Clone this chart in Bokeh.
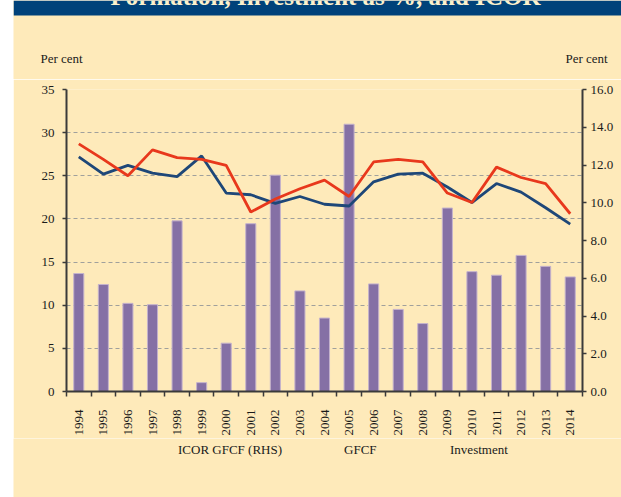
import math
from bokeh.plotting import figure
from bokeh.models import (Range1d, LinearAxis, FixedTicker, PrintfTickFormatter,
                          Legend, LegendItem, Label, BoxAnnotation, Spacer, ColumnDataSource)
from bokeh.layouts import column, row
from bokeh.embed import file_html
from bokeh.resources import INLINE

years = list(range(1994, 2015))
icor = [6.25, 5.67, 4.67, 4.60, 9.04, 0.47, 2.56, 8.89, 11.46, 5.33, 3.89,
        14.16, 5.70, 4.35, 3.60, 9.72, 6.35, 6.16, 7.21, 6.63, 6.07]
gfcf = [27.2, 25.2, 26.2, 25.3, 24.9, 27.3, 23.0, 22.8, 21.8, 22.6, 21.7,
        21.5, 24.3, 25.2, 25.3, 23.7, 21.9, 24.1, 23.1, 21.3, 19.4]
investment = [28.7, 26.9, 25.0, 28.0, 27.1, 26.9, 26.2, 20.8, 22.3, 23.5, 24.5,
              22.6, 26.6, 26.9, 26.6, 23.0, 21.9, 26.0, 24.8, 24.1, 20.6]
left_ticks = [0, 5, 10, 15, 20, 25, 30, 35]
right_ticks = [0, 2, 4, 6, 8, 10, 12, 14, 16]
unit_label = "Per cent"
title_text = "Formation, Investment as %, and ICOR"
series_names = ["ICOR GFCF (RHS)", "GFCF", "Investment"]

BG = "#FEEABA"
BLUE = "#00427A"
FONT = "Liberation Serif"
AX = "#3A3A3A"
TXT = "#1A1A1A"
BAR_FILL = "#8570A5"
BAR_LINE = "#C4B2CC"
GFCF_C = "#1E4778"
INV_C = "#E8381C"
W = 608
HEAD_H = 79

# ---------- header strip: blue title band + unit captions ----------
head = figure(width=W, height=HEAD_H, output_backend="svg", toolbar_location=None,
              x_range=Range1d(0, W), y_range=Range1d(0, HEAD_H),
              x_axis_location=None, y_axis_location=None, frame_align=False,
              min_border_left=0, min_border_right=0, min_border_bottom=0, min_border_top=0)
head.background_fill_color = BG
head.border_fill_color = BG
head.outline_line_color = None
head.grid.visible = False
head.add_layout(BoxAnnotation(bottom=HEAD_H - 15, fill_color=BLUE, fill_alpha=1,
                              line_color=None))
head.add_layout(Label(x=312, y=HEAD_H + 4, text=title_text, text_font=FONT,
                      text_font_size="25px", text_font_style="bold",
                      text_color="#FDF1CC", text_align="center",
                      text_baseline="alphabetic"))
for xx in [27, 552]:
    head.add_layout(Label(x=xx, y=21, text=unit_label, text_font=FONT,
                          text_font_size="13px", text_color=TXT,
                          text_baseline="alphabetic"))

# ---------- main chart ----------
src = ColumnDataSource(dict(year=years, icor=icor, gfcf=gfcf, inv=investment))

p = figure(width=W, height=359, output_backend="svg", toolbar_location=None,
           x_range=Range1d(years[0] - 0.5, years[-1] + 0.5),
           y_range=Range1d(left_ticks[0], left_ticks[-1]),
           x_axis_location=None, y_axis_location=None, frame_align=False,
           min_border_left=53, min_border_right=39, min_border_top=10, min_border_bottom=45)
p.background_fill_color = BG
p.border_fill_color = BG
p.outline_line_color = None
p.extra_y_ranges = {"rhs": Range1d(right_ticks[0], right_ticks[-1])}

xaxis = LinearAxis(ticker=FixedTicker(ticks=years,
                                      minor_ticks=[y - 0.5 for y in years] + [years[-1] + 0.5]))
xaxis.major_tick_out = 0
xaxis.major_tick_in = 0
xaxis.minor_tick_out = 5
xaxis.minor_tick_in = 0
xaxis.minor_tick_line_color = AX
xaxis.minor_tick_line_width = 1.5
xaxis.axis_line_color = AX
xaxis.axis_line_width = 2
xaxis.major_label_orientation = math.pi / 2
xaxis.major_label_standoff = 13
xaxis.major_label_text_font = FONT
xaxis.major_label_text_font_size = "13px"
xaxis.major_label_text_color = TXT
p.add_layout(xaxis, "below")

yaxis = LinearAxis(ticker=FixedTicker(ticks=left_ticks))
yaxis.major_tick_out = 4
yaxis.major_tick_in = 0
yaxis.minor_tick_out = 0
yaxis.minor_tick_in = 0
yaxis.axis_line_color = AX
yaxis.axis_line_width = 2
yaxis.major_tick_line_color = AX
yaxis.major_tick_line_width = 1.5
yaxis.major_label_standoff = 8
yaxis.major_label_text_font = FONT
yaxis.major_label_text_font_size = "13px"
yaxis.major_label_text_color = TXT
p.add_layout(yaxis, "left")

raxis = LinearAxis(y_range_name="rhs", ticker=FixedTicker(ticks=right_ticks),
                   formatter=PrintfTickFormatter(format="%.1f"))
raxis.major_tick_out = 4
raxis.major_tick_in = 0
raxis.minor_tick_out = 0
raxis.minor_tick_in = 0
raxis.axis_line_color = AX
raxis.axis_line_width = 2
raxis.major_tick_line_color = AX
raxis.major_tick_line_width = 1.5
raxis.major_label_standoff = 4
raxis.major_label_text_font = FONT
raxis.major_label_text_font_size = "13px"
raxis.major_label_text_color = TXT
p.add_layout(raxis, "right")

p.xgrid.visible = False
p.ygrid.ticker = FixedTicker(ticks=left_ticks[1:])
p.ygrid.grid_line_color = "#A0A09C"
p.ygrid.grid_line_dash = "4 3"
p.ygrid.grid_line_width = 1.2

p.vbar(x="year", top="icor", width=0.41, source=src, y_range_name="rhs",
       fill_color=BAR_FILL, line_color=BAR_LINE, line_width=1)
p.line("year", "gfcf", source=src, line_color=GFCF_C, line_width=2.8)
p.line("year", "inv", source=src, line_color=INV_C, line_width=2.8)

# ---------- legend strip ----------
leg = figure(width=W, height=59, output_backend="svg", toolbar_location=None,
             x_range=Range1d(0, 1), y_range=Range1d(0, 1),
             x_axis_location=None, y_axis_location=None, frame_align=False,
             min_border_left=0, min_border_right=0, min_border_bottom=0, min_border_top=0)
leg.background_fill_color = BG
leg.border_fill_color = BG
leg.outline_line_color = None
leg.grid.visible = False
kb = leg.vbar(x=[], top=[], width=0.4, fill_color=BAR_FILL, line_color=BAR_LINE, line_width=1)
k1 = leg.line(x=[], y=[], line_color=GFCF_C, line_width=2.8)
k2 = leg.line(x=[], y=[], line_color=INV_C, line_width=2.8)
legend = Legend(items=[LegendItem(label=series_names[0], renderers=[kb]),
                       LegendItem(label=series_names[1], renderers=[k1]),
                       LegendItem(label=series_names[2], renderers=[k2])],
                orientation="horizontal", location=(133, 39),
                background_fill_alpha=0, border_line_color=None,
                padding=0, margin=0, spacing=30, label_standoff=7, label_width=44,
                glyph_width=25, glyph_height=7, label_height=16,
                label_text_font=FONT, label_text_font_size="13px",
                label_text_color=TXT)
leg.add_layout(legend, "center")

layout = row(Spacer(width=13, height=HEAD_H + 359 + 59),
             column(head, p, leg, spacing=0), spacing=0)
open("out.html", "w").write(file_html(layout, INLINE))
